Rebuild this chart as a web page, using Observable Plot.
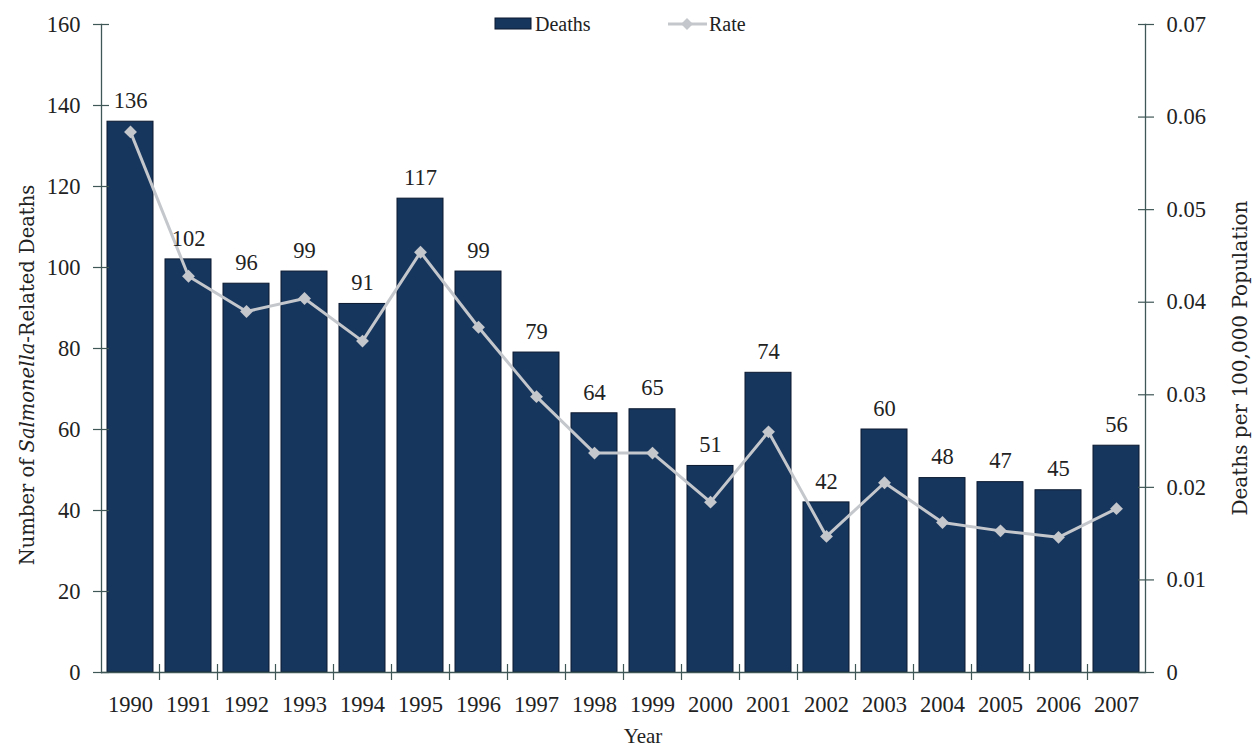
<!DOCTYPE html>
<html>
<head>
<meta charset="utf-8">
<script src="https://cdn.jsdelivr.net/npm/d3@7"></script>
<script src="https://cdn.jsdelivr.net/npm/@observablehq/plot@0.6"></script>
<style>
  body { margin: 0; background: #ffffff; }
  #chart { position: relative; width: 1254px; height: 747px; }
</style>
</head>
<body>
<div id="chart"></div>
<script>
// ---- data ----
const years = ["1990","1991","1992","1993","1994","1995","1996","1997","1998","1999","2000","2001","2002","2003","2004","2005","2006","2007"];
const deaths = [136, 102, 96, 99, 91, 117, 99, 79, 64, 65, 51, 74, 42, 60, 48, 47, 45, 56];
const rate = [0.0584, 0.0428, 0.0390, 0.0404, 0.0358, 0.0454, 0.0373, 0.0298, 0.0237, 0.0237, 0.0184, 0.0260, 0.0147, 0.0205, 0.0162, 0.0153, 0.0146, 0.0177];
const deathTicks = [0, 20, 40, 60, 80, 100, 120, 140, 160];
const rateTicks = [0, 0.01, 0.02, 0.03, 0.04, 0.05, 0.06, 0.07];
const deathMax = 160, rateMax = 0.07;

// ---- derived ----
const k = deathMax / rateMax;
const data = years.map((y, i) => ({year: y, deaths: deaths[i], rate: rate[i], rateScaled: rate[i] * k}));

const axisColor = "#3f5756";
const barFill = "#17365d";
const barStroke = "#0b1930";
const lineColor = "#c4c7cc";
const textColor = "#222222";
const font = "'Liberation Serif', 'Times New Roman', serif";
const numSize = 22.5;

const W = 1254, H = 747, mL = 101, mR = 109, mT = 24, mB = 75;
const step = (W - mL - mR) / years.length;
const pxPerUnit = (H - mT - mB) / deathMax;

const plot = Plot.plot({
  width: W, height: H,
  marginLeft: mL, marginRight: mR, marginTop: mT, marginBottom: mB,
  style: {fontFamily: font, fontSize: "20px", color: textColor, background: "transparent"},
  x: {domain: years, paddingInner: 0.2, paddingOuter: 0.1, axis: null},
  y: {domain: [0, deathMax], axis: null},
  marks: [
    Plot.barY(data, {x: "year", y: "deaths", fill: barFill, stroke: barStroke, strokeWidth: 1}),
    Plot.line(data, {x: "year", y: "rateScaled", stroke: lineColor, strokeWidth: 3}),
    Plot.dot(data, {x: "year", y: "rateScaled", symbol: "diamond2", r: 5.8, fill: lineColor, stroke: "none"}),
    Plot.text(data, {x: "year", y: "deaths", text: d => String(d.deaths), dy: -21, fontSize: numSize, fill: textColor}),
    Plot.ruleY([0], {stroke: axisColor, strokeWidth: 1.3}),
    Plot.frame({anchor: "left", stroke: axisColor, strokeWidth: 1.3}),
    Plot.frame({anchor: "right", stroke: axisColor, strokeWidth: 1.3}),
    // left axis: crossing tick marks, then labels
    Plot.axisY(deathTicks, {anchor: "left", tickSize: 16, dx: 8, stroke: axisColor, strokeWidth: 1.2, tickFormat: () => "", label: null}),
    Plot.axisY(deathTicks, {anchor: "left", tickSize: 0, tickPadding: 21, fontSize: numSize, color: textColor, label: null}),
    // right axis
    Plot.axisY(rateTicks.map(r => r * k), {anchor: "right", tickSize: 16, dx: -8, stroke: axisColor, strokeWidth: 1.2, tickFormat: () => "", label: null}),
    Plot.axisY(rateTicks.map(r => r * k), {anchor: "right", tickSize: 0, tickPadding: 21, fontSize: numSize, color: textColor, label: null,
      tickFormat: d => { const r = d / k; return r < 1e-9 ? "0" : r.toFixed(2); }}),
    // x axis ticks at band boundaries
    Plot.ruleX(years.slice(1), {x: d => d, dx: -step / 2, y1: -8 / pxPerUnit, y2: 8 / pxPerUnit, stroke: axisColor, strokeWidth: 1.2}),
    Plot.axisX(years, {anchor: "bottom", tickSize: 0, tickPadding: 24, fontSize: numSize, color: textColor, label: null})
  ]
});

document.getElementById("chart").appendChild(plot);

// ---- titles and legend ----
const svg = d3.select(plot);
const titleFont = "'DejaVu Serif', serif";

const lt = svg.append("text")
  .attr("transform", "translate(27,375) rotate(-90)")
  .attr("text-anchor", "middle")
  .attr("dominant-baseline", "central")
  .attr("font-family", titleFont)
  .attr("font-size", 19.5)
  .attr("fill", textColor);
lt.append("tspan").text("Number of ");
lt.append("tspan").attr("font-style", "italic").text("Salmonella");
lt.append("tspan").text("-Related Deaths");

svg.append("text")
  .attr("transform", "translate(1240,358) rotate(-90)")
  .attr("text-anchor", "middle")
  .attr("dominant-baseline", "central")
  .attr("font-family", titleFont)
  .attr("font-size", 20)
  .attr("fill", textColor)
  .text("Deaths per 100,000 Population");

svg.append("text")
  .attr("x", 643).attr("y", 736)
  .attr("text-anchor", "middle")
  .attr("dominant-baseline", "central")
  .attr("font-family", font)
  .attr("font-size", 21)
  .attr("fill", textColor)
  .text("Year");

const lg = svg.append("g");
lg.append("rect").attr("x", 495).attr("y", 18).attr("width", 36).attr("height", 11)
  .attr("fill", barFill).attr("stroke", barStroke);
lg.append("text").attr("x", 535).attr("y", 24).attr("dominant-baseline", "central")
  .attr("text-anchor", "start")
  .attr("font-family", font).attr("font-size", 20).attr("fill", textColor).text("Deaths");
lg.append("line").attr("x1", 668).attr("x2", 707).attr("y1", 24).attr("y2", 24)
  .attr("stroke", lineColor).attr("stroke-width", 3);
lg.append("path").attr("d", d3.symbol(d3.symbolDiamond2, 90)()).attr("transform", "translate(687,24)")
  .attr("fill", lineColor);
lg.append("text").attr("x", 709).attr("y", 24).attr("dominant-baseline", "central")
  .attr("text-anchor", "start")
  .attr("font-family", font).attr("font-size", 20).attr("fill", textColor).text("Rate");
</script>
</body>
</html>
